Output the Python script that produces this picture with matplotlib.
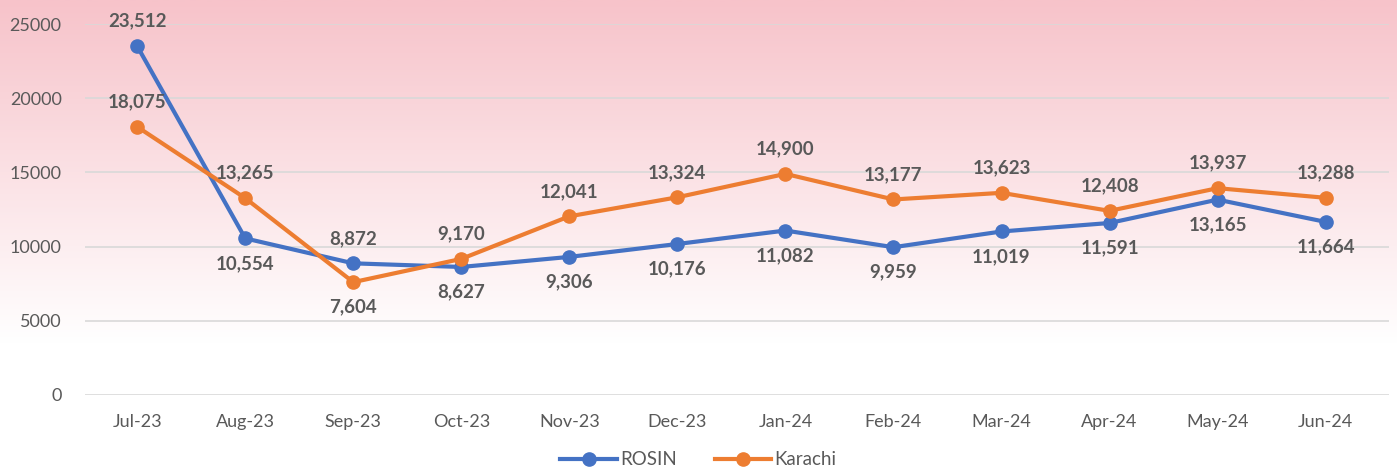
import numpy as np
import matplotlib.pyplot as plt
from matplotlib.colors import LinearSegmentedColormap

months = ['Jul-23', 'Aug-23', 'Sep-23', 'Oct-23', 'Nov-23', 'Dec-23',
          'Jan-24', 'Feb-24', 'Mar-24', 'Apr-24', 'May-24', 'Jun-24']
rosin = [23512, 10554, 8872, 8627, 9306, 10176, 11082, 9959, 11019, 11591, 13165, 11664]
karachi = [18075, 13265, 7604, 9170, 12041, 13324, 14900, 13177, 13623, 12408, 13937, 13288]

# label above (+) or below (-) each point
rosin_pos = [1, -1, 1, -1, -1, -1, -1, -1, -1, -1, -1, -1]
karachi_pos = [1, 1, -1, 1, 1, 1, 1, 1, 1, 1, 1, 1]

plt.rcParams['font.family'] = ['Lato', 'DejaVu Sans']

fig = plt.figure(figsize=(13.97, 4.71), dpi=100)

# pink -> white gradient background
bg = fig.add_axes([0, 0, 1, 1], zorder=-10)
grad = np.clip((np.linspace(0, 1, 400) - 0.27) / 0.73, 0, 1)[:, None]
cmap = LinearSegmentedColormap.from_list('pk', ['#ffffff', '#f7c3ca'])
bg.imshow(grad, aspect='auto', cmap=cmap, origin='lower', extent=[0, 1, 0, 1])
bg.axis('off')

ax = fig.add_axes([0.061, 0.1614, 0.933, 0.7876])
ax.patch.set_alpha(0)
x = np.arange(len(months))

ax.plot(x, rosin, color='#4472c4', lw=3, marker='o', ms=9.5, label='ROSIN', zorder=3)
ax.plot(x, karachi, color='#ed7d31', lw=3, marker='o', ms=9.5, label='Karachi', zorder=3)

for xi, v, p in zip(x, rosin, rosin_pos):
    ax.annotate(f'{v:,}', (xi, v), xytext=(0, 18 * p), textcoords='offset points',
                ha='center', va='center', fontsize=13.5, fontweight='bold', color='#595959')
for xi, v, p in zip(x, karachi, karachi_pos):
    ax.annotate(f'{v:,}', (xi, v), xytext=(0, 18 * p), textcoords='offset points',
                ha='center', va='center', fontsize=13.5, fontweight='bold', color='#595959')

ax.set_xlim(-0.481, 11.583)
ax.set_ylim(0, 25000)
ax.set_yticks(range(0, 25001, 5000))
ax.set_xticks(x)
ax.set_xticklabels(months)
ax.tick_params(length=0, labelsize=13, colors='#595959', pad=14)
ax.tick_params(axis='y', pad=17)
ax.grid(axis='y', color='#d9d9d9', lw=1.2)
ax.set_axisbelow(True)
for s in ax.spines.values():
    s.set_visible(False)

fig.legend(loc='lower center', ncol=2, frameon=False, fontsize=13.5,
           bbox_to_anchor=(0.5, -0.03), handlelength=3.0, columnspacing=2.0,
           labelcolor='#595959', handletextpad=0.2)

fig.savefig('out.png', dpi=100)
